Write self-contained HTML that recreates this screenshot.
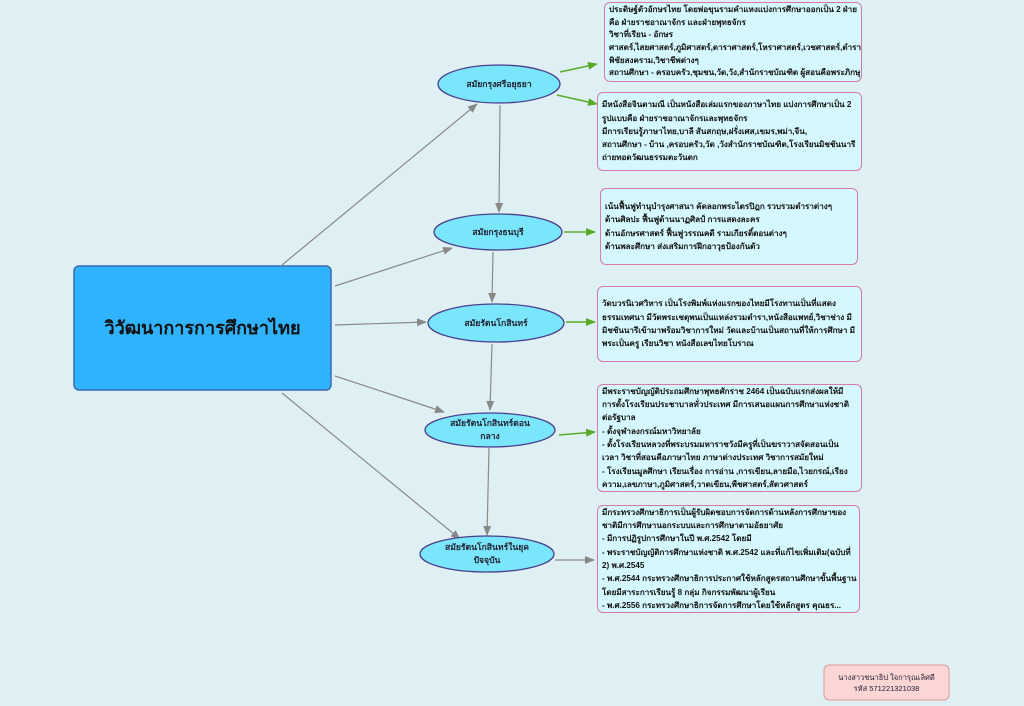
<!DOCTYPE html>
<html><head><meta charset="utf-8"><style>
html,body{margin:0;padding:0}
body{width:1024px;height:706px;background:#dff0f5;position:relative;overflow:hidden;font-family:"Liberation Sans","DejaVu Sans",sans-serif}
.b{position:absolute;background:#d4f8fd;border:1.5px solid #d77aa8;border-radius:6px;box-sizing:border-box;font-size:8.1px;font-weight:bold;line-height:13.3px;color:#111;padding:3px 4px;display:flex;flex-direction:column;justify-content:center;white-space:nowrap;overflow:hidden}
.e{position:absolute;font-size:8.6px;font-weight:bold;color:#223;text-align:center;line-height:13px;display:flex;align-items:center;justify-content:center}
</style></head><body>
<svg width="1024" height="706" style="position:absolute;left:0;top:0">
<defs>
<marker id="g" markerWidth="10" markerHeight="8" refX="9" refY="4" orient="auto" markerUnits="userSpaceOnUse"><path d="M0,0 L10,4 L0,8 z" fill="#888"/></marker>
<marker id="gr" markerWidth="10" markerHeight="8" refX="9" refY="4" orient="auto" markerUnits="userSpaceOnUse"><path d="M0,0 L10,4 L0,8 z" fill="#5aaa2a"/></marker>
</defs>
<g stroke="#8a8a8a" stroke-width="1.2" fill="none" marker-end="url(#g)">
<line x1="282" y1="265" x2="477" y2="104"/>
<line x1="335" y1="286" x2="452" y2="248"/>
<line x1="335" y1="325" x2="426" y2="322"/>
<line x1="335" y1="376" x2="444" y2="412"/>
<line x1="282" y1="393" x2="460" y2="539"/>
<line x1="500" y1="105" x2="499" y2="212"/>
<line x1="493" y1="252" x2="492" y2="302"/>
<line x1="492" y1="344" x2="490" y2="410"/>
<line x1="489" y1="448" x2="487" y2="535"/>
<line x1="555" y1="560" x2="594" y2="560"/>
</g>
<g stroke="#5aaa2a" stroke-width="1.5" fill="none" marker-end="url(#gr)">
<line x1="560" y1="72" x2="597" y2="64"/>
<line x1="557" y1="95" x2="597" y2="104"/>
<line x1="564" y1="232" x2="595" y2="232"/>
<line x1="566" y1="322" x2="595" y2="322"/>
<line x1="559" y1="435" x2="595" y2="432"/>
</g>
<g fill="#7ae6fb" stroke="#4a3f8a" stroke-width="1.3">
<ellipse cx="499" cy="84" rx="61" ry="19"/>
<ellipse cx="498" cy="232" rx="64" ry="18"/>
<ellipse cx="496" cy="323" rx="68" ry="19"/>
<ellipse cx="490" cy="430" rx="65" ry="17"/>
<ellipse cx="487" cy="554" rx="67" ry="18"/>
</g>
<rect x="74" y="266" width="257" height="124" rx="5" fill="#2fb3ff" stroke="#3a6ab0" stroke-width="1.5"/>
<rect x="824" y="665" width="125" height="35" rx="5" fill="#fcd5d5" stroke="#d99" stroke-width="1"/>
</svg>
<div class="e" style="left:74px;top:266px;width:257px;height:124px;font-size:18px;color:#111">วิวัฒนาการการศึกษาไทย</div>
<div class="e" style="left:438px;top:65px;width:122px;height:38px">สมัยกรุงศรีอยุธยา</div>
<div class="e" style="left:434px;top:214px;width:128px;height:36px">สมัยกรุงธนบุรี</div>
<div class="e" style="left:428px;top:304px;width:136px;height:38px">สมัยรัตนโกสินทร์</div>
<div class="e" style="left:425px;top:413px;width:130px;height:34px">สมัยรัตนโกสินทร์ตอน<br>กลาง</div>
<div class="e" style="left:420px;top:536px;width:134px;height:36px">สมัยรัตนโกสินทร์ในยุค<br>ปัจจุบัน</div>
<div class="e" style="left:824px;top:665px;width:125px;height:35px;font-size:7.5px;line-height:11px;font-weight:normal">นางสาวชนาธิป  ใจการุณเลิศดี<br>รหัส 571221321038</div>
<div class="b" style="left:604px;top:2px;width:258px;height:80px;line-height:12.6px;padding:2px 4px">ประดิษฐ์ตัวอักษรไทย โดยพ่อขุนรามคำแหงแบ่งการศึกษาออกเป็น 2 ฝ่าย<br>คือ ฝ่ายราชอาณาจักร และฝ่ายพุทธจักร<br>วิชาที่เรียน - อักษร<br>ศาสตร์,ไสยศาสตร์,ภูมิศาสตร์,ดาราศาสตร์,โหราศาสตร์,เวชศาสตร์,ตำรา<br>พิชัยสงคราม,วิชาชีพต่างๆ<br>สถานศึกษา - ครอบครัว,ชุมชน,วัด,วัง,สำนักราชบัณฑิต ผู้สอนคือพระภิกษุ</div>
<div class="b" style="left:597px;top:92px;width:265px;height:79px">มีหนังสือจินดามณี เป็นหนังสือเล่มแรกของภาษาไทย แบ่งการศึกษาเป็น 2<br>รูปแบบคือ ฝ่ายราชอาณาจักรและพุทธจักร<br>มีการเรียนรู้ภาษาไทย,บาลี สันสกฤษ,ฝรั่งเศส,เขมร,พม่า,จีน,<br>สถานศึกษา - บ้าน ,ครอบครัว,วัด ,วังสำนักราชบัณฑิต,โรงเรียนมิชชันนารี<br>ถ่ายทอดวัฒนธรรมตะวันตก</div>
<div class="b" style="left:600px;top:188px;width:258px;height:77px">เน้นฟื้นฟูทำนุบำรุงศาสนา คัดลอกพระไตรปิฎก รวบรวมตำราต่างๆ<br>ด้านศิลปะ ฟื้นฟูด้านนาฏศิลป์ การแสดงละคร<br>ด้านอักษรศาสตร์ ฟื้นฟูวรรณคดี รามเกียรติ์ตอนต่างๆ<br>ด้านพละศึกษา ส่งเสริมการฝึกอาวุธป้องกันตัว</div>
<div class="b" style="left:597px;top:286px;width:265px;height:76px">วัดบวรนิเวศวิหาร เป็นโรงพิมพ์แห่งแรกของไทยมีโรงทานเป็นที่แสดง<br>ธรรมเทศนา มีวัดพระเชตุพนเป็นแหล่งรวมตำรา,หนังสือแพทย์,วิชาช่าง มี<br>มิชชันนารีเข้ามาพร้อมวิชาการใหม่ วัดและบ้านเป็นสถานที่ให้การศึกษา มี<br>พระเป็นครู เรียนวิชา หนังสือเลขไทยโบราณ</div>
<div class="b" style="left:597px;top:384px;width:265px;height:108px">มีพระราชบัญญัติประถมศึกษาพุทธศักราช 2464 เป็นฉบับแรกส่งผลให้มี<br>การตั้งโรงเรียนประชาบาลทั่วประเทศ มีการเสนอแผนการศึกษาแห่งชาติ<br>ต่อรัฐบาล<br>- ตั้งจุฬาลงกรณ์มหาวิทยาลัย<br>- ตั้งโรงเรียนหลวงที่พระบรมมหาราชวังมีครูที่เป็นฆราวาสจัดสอนเป็น<br>เวลา วิชาที่สอนคือภาษาไทย ภาษาต่างประเทศ วิชาการสมัยใหม่<br>- โรงเรียนมูลศึกษา เรียนเรื่อง การอ่าน ,การเขียน,ลายมือ,ไวยกรณ์,เรียง<br>ความ,เลขภาษา,ภูมิศาสตร์,วาดเขียน,พืชศาสตร์,สัตวศาสตร์</div>
<div class="b" style="left:597px;top:505px;width:263px;height:108px">มีกระทรวงศึกษาธิการเป็นผู้รับผิดชอบการจัดการด้านหลังการศึกษาของ<br>ชาติมีการศึกษานอกระบบและการศึกษาตามอัธยาศัย<br>- มีการปฏิรูปการศึกษาในปี พ.ศ.2542 โดยมี<br>- พระราชบัญญัติการศึกษาแห่งชาติ พ.ศ.2542 และที่แก้ไขเพิ่มเติม(ฉบับที่<br>2) พ.ศ.2545<br>- พ.ศ.2544 กระทรวงศึกษาธิการประกาศใช้หลักสูตรสถานศึกษาขั้นพื้นฐาน<br>โดยมีสาระการเรียนรู้ 8 กลุ่ม กิจกรรมพัฒนาผู้เรียน<br>- พ.ศ.2556 กระทรวงศึกษาธิการจัดการศึกษาโดยใช้หลักสูตร คุณธร...</div>
</body></html>
